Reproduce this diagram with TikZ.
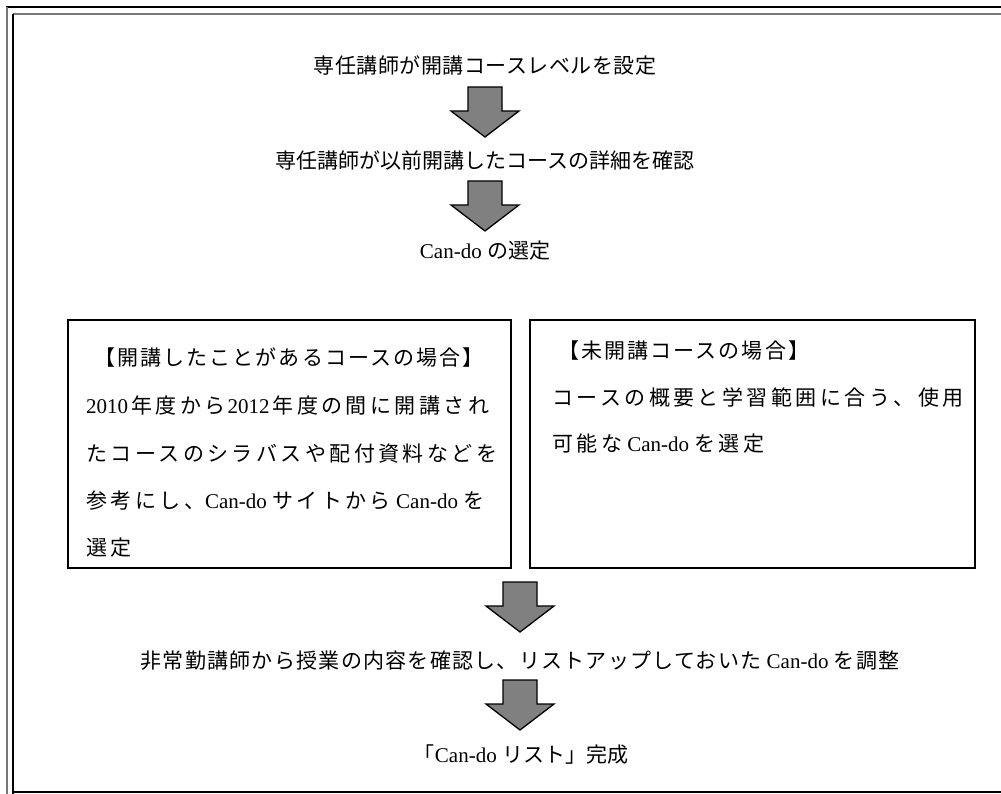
\documentclass[tikz,border=0pt]{standalone}
\usepackage{fontspec}
\setmainfont{Liberation Serif}
\newfontfamily\cjk{Noto Sans CJK JP}
\newfontfamily\cjka[LetterSpace=2.5]{Noto Sans CJK JP}
\newfontfamily\cjkm[LetterSpace=6]{Noto Sans CJK JP}
\newfontfamily\cjkt[LetterSpace=10]{Noto Sans CJK JP}
\newfontfamily\cjkw[LetterSpace=16.5]{Noto Sans CJK JP}
\definecolor{arrowgray}{RGB}{128,128,128}
\definecolor{framegray}{RGB}{120,120,120}
\tikzset{
  lbl/.style={inner sep=0pt, font=\fontsize{21}{25}\selectfont},
  boxtxt/.style={inner sep=0pt, anchor=base west, font=\fontsize{21}{25}\selectfont},
  casebox/.style={draw=black, line width=1.4pt, inner sep=0pt},
  blockarrow/.pic={\draw[fill=arrowgray, line width=1.3pt, line join=miter]
     (-17,0) -- (17,0) -- (17,24) -- (34,24) -- (0,50) -- (-34,24) -- (-17,24) -- cycle;}
}
\begin{document}
\begin{tikzpicture}[x=1pt,y=-1pt]
\useasboundingbox (0,0) rectangle (1001,794);
% frame
\draw[black, line width=2pt] (6,7) -- (1001,7);
\draw[framegray, line width=2pt] (7,7) -- (7,794);
\draw[framegray, line width=2pt] (13,14) -- (1001,14);
\draw[black, line width=2pt] (13,14) -- (13,794);
\draw[black, line width=2pt] (13,792) -- (1001,792);
% texts
\node[lbl] (t1) at (485,66) {\cjka 専任講師が開講コースレベルを設定};
\node[lbl] (t2) at (485,160) {\cjk 専任講師が以前開講したコースの詳細を確認};
\node[lbl] (t3) at (485,251) {Can-do {\cjk の選定}};
% boxes
\node[casebox, minimum width=443pt, minimum height=248pt] (bl) at (289.5,444) {};
\node[casebox, minimum width=445pt, minimum height=248pt] (br) at (752.5,444) {};
\node[boxtxt] (l1) at (94,365) {\cjkt 【開講したことがあるコースの場合】};
\node[boxtxt] (l2) at (86,413) {2010\hspace{3pt}{\cjkw 年度から}\hspace{2pt}2012\hspace{3pt}{\cjkw 年度の間に開講され}};
\node[boxtxt] (l3) at (86,461) {\cjkw たコースのシラバスや配付資料などを};
\node[boxtxt] (l4) at (86,508) {{\cjkw 参考にし、}Can-do {\cjkw サイトから} Can-do {\cjkw を}};
\node[boxtxt] (l5) at (86,555) {\cjkw 選定};
\node[boxtxt] (r1) at (558,358) {\cjkt 【未開講コースの場合】};
\node[boxtxt] (r2) at (552,405) {\cjkw コースの概要と学習範囲に合う、使用};
\node[boxtxt] (r3) at (552,451) {{\cjkw 可能な} Can-do {\cjkw を選定}};
\node[lbl] (t4) at (520,661) {{\cjkm 非常勤講師から授業の内容を確認し、リストアップしておいた} Can-do {\cjkm を調整}};
\node[lbl] (t5) at (521,755) {{\cjk 「}Can-do {\cjk リスト」完成}};
% block arrows
\pic at (485,87) {blockarrow};
\pic at (485,181) {blockarrow};
\pic at (520,582) {blockarrow};
\pic at (520,680) {blockarrow};
\end{tikzpicture}
\end{document}
